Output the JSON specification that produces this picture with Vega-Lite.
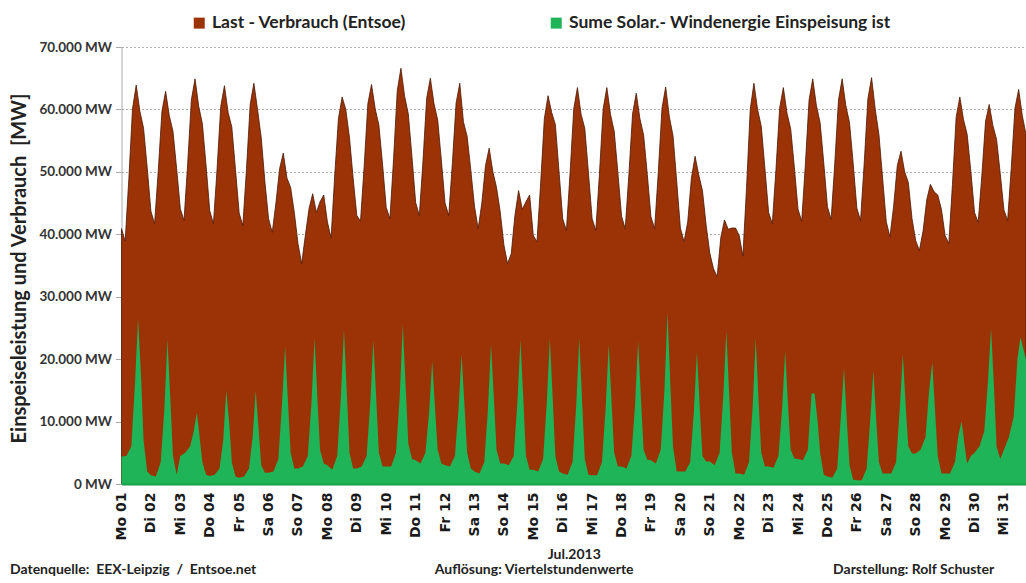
{
"$schema": "https://vega.github.io/schema/vega-lite/v6.json",
"width": 904.5,
"height": 437,
"autosize": {"type": "none"},
"padding": {"left": 121.5, "top": 47, "right": 0, "bottom": 99},
"background": "white",
"config": {"view": {"stroke": null}, "font": "Lato"},
"title": {
  "text": "Datenquelle:\u00a0\u00a0EEX-Leipzig\u00a0\u00a0/\u00a0\u00a0Entsoe.net\u2003\u2003\u2003\u2003\u2003\u2003\u2003\u2003\u2003\u2003\u2003\u2003\u2003\u2003\u2003\u2003\u2003Auflösung: Viertelstundenwerte\u2003\u2003\u2003\u2003\u2003\u2003\u2003\u2003\u2003\u2003\u2003\u2003\u2003\u2003\u2003\u2003\u2003\u2003\u2003Darstellung: Rolf Schuster",
  "orient": "bottom", "anchor": "start", "frame": "group", "dx": -111.5, "offset": 2,
  "baseline": "top", "font": "Lato", "fontSize": 14, "fontWeight": "bold", "color": "#222222"
},
"datasets": {
"last": [
{"t":"2013-07-01T00:00","v":40900},{"t":"2013-07-01T03:00","v":38900},{"t":"2013-07-01T06:00","v":48900},{"t":"2013-07-01T09:00","v":60100},{"t":"2013-07-01T12:00","v":63900},{"t":"2013-07-01T15:00","v":59700},{"t":"2013-07-01T18:00","v":57000},{"t":"2013-07-01T21:00","v":50600},
{"t":"2013-07-02T00:00","v":43700},{"t":"2013-07-02T03:00","v":41700},{"t":"2013-07-02T06:00","v":50200},{"t":"2013-07-02T09:00","v":59700},{"t":"2013-07-02T12:00","v":62900},{"t":"2013-07-02T15:00","v":59000},{"t":"2013-07-02T18:00","v":56500},{"t":"2013-07-02T21:00","v":50500},
{"t":"2013-07-03T00:00","v":44100},{"t":"2013-07-03T03:00","v":42200},{"t":"2013-07-03T06:00","v":51300},{"t":"2013-07-03T09:00","v":61500},{"t":"2013-07-03T12:00","v":64900},{"t":"2013-07-03T15:00","v":60500},{"t":"2013-07-03T18:00","v":57700},{"t":"2013-07-03T21:00","v":51000},
{"t":"2013-07-04T00:00","v":43800},{"t":"2013-07-04T03:00","v":41700},{"t":"2013-07-04T06:00","v":50500},{"t":"2013-07-04T09:00","v":60500},{"t":"2013-07-04T12:00","v":63800},{"t":"2013-07-04T15:00","v":59500},{"t":"2013-07-04T18:00","v":57200},{"t":"2013-07-04T21:00","v":50400},
{"t":"2013-07-05T00:00","v":43400},{"t":"2013-07-05T03:00","v":41400},{"t":"2013-07-05T06:00","v":50500},{"t":"2013-07-05T09:00","v":60800},{"t":"2013-07-05T12:00","v":64200},{"t":"2013-07-05T15:00","v":60000},{"t":"2013-07-05T18:00","v":55500},{"t":"2013-07-05T21:00","v":48400},
{"t":"2013-07-06T00:00","v":42500},{"t":"2013-07-06T03:00","v":40300},{"t":"2013-07-06T06:00","v":45000},{"t":"2013-07-06T09:00","v":50500},{"t":"2013-07-06T12:00","v":53000},{"t":"2013-07-06T15:00","v":49000},{"t":"2013-07-06T18:00","v":47500},{"t":"2013-07-06T21:00","v":43500},
{"t":"2013-07-07T00:00","v":38500},{"t":"2013-07-07T03:00","v":35300},{"t":"2013-07-07T06:00","v":39800},{"t":"2013-07-07T09:00","v":44100},{"t":"2013-07-07T12:00","v":46500},{"t":"2013-07-07T15:00","v":43500},{"t":"2013-07-07T18:00","v":45200},{"t":"2013-07-07T21:00","v":46300},
{"t":"2013-07-08T00:00","v":42000},{"t":"2013-07-08T03:00","v":39400},{"t":"2013-07-08T06:00","v":49500},{"t":"2013-07-08T09:00","v":58500},{"t":"2013-07-08T12:00","v":62000},{"t":"2013-07-08T15:00","v":60000},{"t":"2013-07-08T18:00","v":55500},{"t":"2013-07-08T21:00","v":49000},
{"t":"2013-07-09T00:00","v":43000},{"t":"2013-07-09T03:00","v":42100},{"t":"2013-07-09T06:00","v":50900},{"t":"2013-07-09T09:00","v":60900},{"t":"2013-07-09T12:00","v":64000},{"t":"2013-07-09T15:00","v":60100},{"t":"2013-07-09T18:00","v":57500},{"t":"2013-07-09T21:00","v":51200},
{"t":"2013-07-10T00:00","v":44300},{"t":"2013-07-10T03:00","v":42500},{"t":"2013-07-10T06:00","v":52100},{"t":"2013-07-10T09:00","v":63000},{"t":"2013-07-10T12:00","v":66600},{"t":"2013-07-10T15:00","v":62100},{"t":"2013-07-10T18:00","v":59300},{"t":"2013-07-10T21:00","v":52400},
{"t":"2013-07-11T00:00","v":45100},{"t":"2013-07-11T03:00","v":43000},{"t":"2013-07-11T06:00","v":51800},{"t":"2013-07-11T09:00","v":61800},{"t":"2013-07-11T12:00","v":65000},{"t":"2013-07-11T15:00","v":60900},{"t":"2013-07-11T18:00","v":58300},{"t":"2013-07-11T21:00","v":51800},
{"t":"2013-07-12T00:00","v":45000},{"t":"2013-07-12T03:00","v":43000},{"t":"2013-07-12T06:00","v":51500},{"t":"2013-07-12T09:00","v":61000},{"t":"2013-07-12T12:00","v":64200},{"t":"2013-07-12T15:00","v":58000},{"t":"2013-07-12T18:00","v":55700},{"t":"2013-07-12T21:00","v":50300},
{"t":"2013-07-13T00:00","v":44500},{"t":"2013-07-13T03:00","v":40900},{"t":"2013-07-13T06:00","v":45000},{"t":"2013-07-13T09:00","v":51000},{"t":"2013-07-13T12:00","v":53800},{"t":"2013-07-13T15:00","v":50000},{"t":"2013-07-13T18:00","v":47500},{"t":"2013-07-13T21:00","v":43600},
{"t":"2013-07-14T00:00","v":38300},{"t":"2013-07-14T03:00","v":35300},{"t":"2013-07-14T06:00","v":36900},{"t":"2013-07-14T09:00","v":43000},{"t":"2013-07-14T12:00","v":47000},{"t":"2013-07-14T15:00","v":44000},{"t":"2013-07-14T18:00","v":45200},{"t":"2013-07-14T21:00","v":46300},
{"t":"2013-07-15T00:00","v":39800},{"t":"2013-07-15T03:00","v":38800},{"t":"2013-07-15T06:00","v":48200},{"t":"2013-07-15T09:00","v":58500},{"t":"2013-07-15T12:00","v":62200},{"t":"2013-07-15T15:00","v":59500},{"t":"2013-07-15T18:00","v":57600},{"t":"2013-07-15T21:00","v":50000},
{"t":"2013-07-16T00:00","v":42500},{"t":"2013-07-16T03:00","v":40600},{"t":"2013-07-16T06:00","v":49800},{"t":"2013-07-16T09:00","v":60100},{"t":"2013-07-16T12:00","v":63500},{"t":"2013-07-16T15:00","v":59200},{"t":"2013-07-16T18:00","v":57000},{"t":"2013-07-16T21:00","v":49800},
{"t":"2013-07-17T00:00","v":42500},{"t":"2013-07-17T03:00","v":40600},{"t":"2013-07-17T06:00","v":49800},{"t":"2013-07-17T09:00","v":60100},{"t":"2013-07-17T12:00","v":63500},{"t":"2013-07-17T15:00","v":59200},{"t":"2013-07-17T18:00","v":56500},{"t":"2013-07-17T21:00","v":49900},
{"t":"2013-07-18T00:00","v":42900},{"t":"2013-07-18T03:00","v":40900},{"t":"2013-07-18T06:00","v":49600},{"t":"2013-07-18T09:00","v":59300},{"t":"2013-07-18T12:00","v":62600},{"t":"2013-07-18T15:00","v":58500},{"t":"2013-07-18T18:00","v":55900},{"t":"2013-07-18T21:00","v":49600},
{"t":"2013-07-19T00:00","v":42800},{"t":"2013-07-19T03:00","v":40900},{"t":"2013-07-19T06:00","v":50000},{"t":"2013-07-19T09:00","v":60200},{"t":"2013-07-19T12:00","v":63600},{"t":"2013-07-19T15:00","v":58800},{"t":"2013-07-19T18:00","v":55800},{"t":"2013-07-19T21:00","v":48500},
{"t":"2013-07-20T00:00","v":41000},{"t":"2013-07-20T03:00","v":38800},{"t":"2013-07-20T06:00","v":42000},{"t":"2013-07-20T09:00","v":49000},{"t":"2013-07-20T12:00","v":52500},{"t":"2013-07-20T15:00","v":49500},{"t":"2013-07-20T18:00","v":47000},{"t":"2013-07-20T21:00","v":41500},
{"t":"2013-07-21T00:00","v":37000},{"t":"2013-07-21T03:00","v":34500},{"t":"2013-07-21T06:00","v":33200},{"t":"2013-07-21T09:00","v":39500},{"t":"2013-07-21T12:00","v":42300},{"t":"2013-07-21T15:00","v":40800},{"t":"2013-07-21T18:00","v":41000},{"t":"2013-07-21T21:00","v":41000},
{"t":"2013-07-22T00:00","v":39800},{"t":"2013-07-22T03:00","v":36500},{"t":"2013-07-22T06:00","v":47500},{"t":"2013-07-22T09:00","v":60000},{"t":"2013-07-22T12:00","v":64200},{"t":"2013-07-22T15:00","v":60000},{"t":"2013-07-22T18:00","v":57300},{"t":"2013-07-22T21:00","v":50500},
{"t":"2013-07-23T00:00","v":43500},{"t":"2013-07-23T03:00","v":41700},{"t":"2013-07-23T06:00","v":50400},{"t":"2013-07-23T09:00","v":60200},{"t":"2013-07-23T12:00","v":63500},{"t":"2013-07-23T15:00","v":59400},{"t":"2013-07-23T18:00","v":56900},{"t":"2013-07-23T21:00","v":50700},
{"t":"2013-07-24T00:00","v":44000},{"t":"2013-07-24T03:00","v":42100},{"t":"2013-07-24T06:00","v":51200},{"t":"2013-07-24T09:00","v":61500},{"t":"2013-07-24T12:00","v":64900},{"t":"2013-07-24T15:00","v":60600},{"t":"2013-07-24T18:00","v":57900},{"t":"2013-07-24T21:00","v":51400},
{"t":"2013-07-25T00:00","v":44400},{"t":"2013-07-25T03:00","v":42400},{"t":"2013-07-25T06:00","v":51400},{"t":"2013-07-25T09:00","v":61500},{"t":"2013-07-25T12:00","v":64900},{"t":"2013-07-25T15:00","v":60600},{"t":"2013-07-25T18:00","v":57900},{"t":"2013-07-25T21:00","v":51300},
{"t":"2013-07-26T00:00","v":44200},{"t":"2013-07-26T03:00","v":42200},{"t":"2013-07-26T06:00","v":51400},{"t":"2013-07-26T09:00","v":61700},{"t":"2013-07-26T12:00","v":65100},{"t":"2013-07-26T15:00","v":60000},{"t":"2013-07-26T18:00","v":56000},{"t":"2013-07-26T21:00","v":49000},
{"t":"2013-07-27T00:00","v":42000},{"t":"2013-07-27T03:00","v":39600},{"t":"2013-07-27T06:00","v":44500},{"t":"2013-07-27T09:00","v":51000},{"t":"2013-07-27T12:00","v":53300},{"t":"2013-07-27T15:00","v":50000},{"t":"2013-07-27T18:00","v":48300},{"t":"2013-07-27T21:00","v":42500},
{"t":"2013-07-28T00:00","v":39000},{"t":"2013-07-28T03:00","v":37400},{"t":"2013-07-28T06:00","v":40500},{"t":"2013-07-28T09:00","v":45500},{"t":"2013-07-28T12:00","v":48000},{"t":"2013-07-28T15:00","v":46800},{"t":"2013-07-28T18:00","v":46300},{"t":"2013-07-28T21:00","v":44000},
{"t":"2013-07-29T00:00","v":39800},{"t":"2013-07-29T03:00","v":38500},{"t":"2013-07-29T06:00","v":48000},{"t":"2013-07-29T09:00","v":58700},{"t":"2013-07-29T12:00","v":62000},{"t":"2013-07-29T15:00","v":58400},{"t":"2013-07-29T18:00","v":56000},{"t":"2013-07-29T21:00","v":50100},
{"t":"2013-07-30T00:00","v":43500},{"t":"2013-07-30T03:00","v":41900},{"t":"2013-07-30T06:00","v":49500},{"t":"2013-07-30T09:00","v":58100},{"t":"2013-07-30T12:00","v":60800},{"t":"2013-07-30T15:00","v":57400},{"t":"2013-07-30T18:00","v":55200},{"t":"2013-07-30T21:00","v":49700},
{"t":"2013-07-31T00:00","v":43900},{"t":"2013-07-31T03:00","v":42200},{"t":"2013-07-31T06:00","v":50700},{"t":"2013-07-31T09:00","v":60200},{"t":"2013-07-31T12:00","v":63200},{"t":"2013-07-31T15:00","v":59000},{"t":"2013-07-31T18:00","v":56000}
],
"ee": [
{"t":"2013-07-01T00:00","v":4400},{"t":"2013-07-01T04:00","v":4500},{"t":"2013-07-01T08:00","v":6000},{"t":"2013-07-01T11:00","v":16000},{"t":"2013-07-01T13:30","v":26500},{"t":"2013-07-01T16:00","v":17000},{"t":"2013-07-01T18:00","v":7000},{"t":"2013-07-01T21:00","v":2000},
{"t":"2013-07-02T00:00","v":1400},{"t":"2013-07-02T04:00","v":1200},{"t":"2013-07-02T08:00","v":3500},{"t":"2013-07-02T11:00","v":12000},{"t":"2013-07-02T13:30","v":23200},{"t":"2013-07-02T16:00","v":13000},{"t":"2013-07-02T18:00","v":4500},{"t":"2013-07-02T21:00","v":1500},
{"t":"2013-07-03T00:00","v":4500},{"t":"2013-07-03T04:00","v":5000},{"t":"2013-07-03T08:00","v":6000},{"t":"2013-07-03T11:00","v":8500},{"t":"2013-07-03T13:30","v":11400},{"t":"2013-07-03T16:00","v":7000},{"t":"2013-07-03T18:00","v":3500},{"t":"2013-07-03T21:00","v":1500},
{"t":"2013-07-04T00:00","v":1300},{"t":"2013-07-04T04:00","v":1500},{"t":"2013-07-04T08:00","v":2500},{"t":"2013-07-04T11:00","v":7000},{"t":"2013-07-04T13:30","v":15000},{"t":"2013-07-04T16:00","v":9500},{"t":"2013-07-04T18:00","v":3500},{"t":"2013-07-04T21:00","v":1200},
{"t":"2013-07-05T00:00","v":1000},{"t":"2013-07-05T04:00","v":1200},{"t":"2013-07-05T08:00","v":2500},{"t":"2013-07-05T11:00","v":7500},{"t":"2013-07-05T13:30","v":14900},{"t":"2013-07-05T16:00","v":8500},{"t":"2013-07-05T18:00","v":3000},{"t":"2013-07-05T21:00","v":1800},
{"t":"2013-07-06T00:00","v":1800},{"t":"2013-07-06T04:00","v":2000},{"t":"2013-07-06T08:00","v":4000},{"t":"2013-07-06T11:00","v":13000},{"t":"2013-07-06T13:30","v":22000},{"t":"2013-07-06T16:00","v":12500},{"t":"2013-07-06T18:00","v":5000},{"t":"2013-07-06T21:00","v":2500},
{"t":"2013-07-07T00:00","v":2500},{"t":"2013-07-07T04:00","v":2800},{"t":"2013-07-07T08:00","v":4500},{"t":"2013-07-07T11:00","v":13000},{"t":"2013-07-07T13:30","v":23300},{"t":"2013-07-07T16:00","v":13000},{"t":"2013-07-07T18:00","v":5500},{"t":"2013-07-07T21:00","v":3300},
{"t":"2013-07-08T00:00","v":3000},{"t":"2013-07-08T04:00","v":2300},{"t":"2013-07-08T08:00","v":4500},{"t":"2013-07-08T11:00","v":14000},{"t":"2013-07-08T13:30","v":24700},{"t":"2013-07-08T16:00","v":14000},{"t":"2013-07-08T18:00","v":5000},{"t":"2013-07-08T21:00","v":2500},
{"t":"2013-07-09T00:00","v":2500},{"t":"2013-07-09T04:00","v":2800},{"t":"2013-07-09T08:00","v":4500},{"t":"2013-07-09T11:00","v":13000},{"t":"2013-07-09T13:30","v":23000},{"t":"2013-07-09T16:00","v":13000},{"t":"2013-07-09T18:00","v":5000},{"t":"2013-07-09T21:00","v":2800},
{"t":"2013-07-10T00:00","v":2800},{"t":"2013-07-10T04:00","v":2800},{"t":"2013-07-10T08:00","v":5000},{"t":"2013-07-10T11:00","v":14000},{"t":"2013-07-10T13:30","v":25500},{"t":"2013-07-10T16:00","v":15000},{"t":"2013-07-10T18:00","v":6500},{"t":"2013-07-10T21:00","v":4000},
{"t":"2013-07-11T00:00","v":3800},{"t":"2013-07-11T04:00","v":3300},{"t":"2013-07-11T08:00","v":5000},{"t":"2013-07-11T11:00","v":11500},{"t":"2013-07-11T13:30","v":19700},{"t":"2013-07-11T16:00","v":11500},{"t":"2013-07-11T18:00","v":5500},{"t":"2013-07-11T21:00","v":3300},
{"t":"2013-07-12T00:00","v":3000},{"t":"2013-07-12T04:00","v":2800},{"t":"2013-07-12T08:00","v":4500},{"t":"2013-07-12T11:00","v":12000},{"t":"2013-07-12T13:30","v":20800},{"t":"2013-07-12T16:00","v":12000},{"t":"2013-07-12T18:00","v":5000},{"t":"2013-07-12T21:00","v":2500},
{"t":"2013-07-13T00:00","v":2000},{"t":"2013-07-13T04:00","v":1700},{"t":"2013-07-13T08:00","v":3500},{"t":"2013-07-13T11:00","v":12000},{"t":"2013-07-13T13:30","v":22400},{"t":"2013-07-13T16:00","v":13000},{"t":"2013-07-13T18:00","v":5500},{"t":"2013-07-13T21:00","v":3300},
{"t":"2013-07-14T00:00","v":3300},{"t":"2013-07-14T04:00","v":3000},{"t":"2013-07-14T08:00","v":4500},{"t":"2013-07-14T11:00","v":13000},{"t":"2013-07-14T13:30","v":23100},{"t":"2013-07-14T16:00","v":13000},{"t":"2013-07-14T18:00","v":4500},{"t":"2013-07-14T21:00","v":2300},
{"t":"2013-07-15T00:00","v":2300},{"t":"2013-07-15T04:00","v":2000},{"t":"2013-07-15T08:00","v":4000},{"t":"2013-07-15T11:00","v":13000},{"t":"2013-07-15T13:30","v":23300},{"t":"2013-07-15T16:00","v":13000},{"t":"2013-07-15T18:00","v":4500},{"t":"2013-07-15T21:00","v":2000},
{"t":"2013-07-16T00:00","v":1700},{"t":"2013-07-16T04:00","v":1500},{"t":"2013-07-16T08:00","v":3500},{"t":"2013-07-16T11:00","v":12500},{"t":"2013-07-16T13:30","v":23300},{"t":"2013-07-16T16:00","v":12500},{"t":"2013-07-16T18:00","v":4000},{"t":"2013-07-16T21:00","v":1500},
{"t":"2013-07-17T00:00","v":1400},{"t":"2013-07-17T04:00","v":1400},{"t":"2013-07-17T08:00","v":3500},{"t":"2013-07-17T11:00","v":12000},{"t":"2013-07-17T13:30","v":22400},{"t":"2013-07-17T16:00","v":12500},{"t":"2013-07-17T18:00","v":5000},{"t":"2013-07-17T21:00","v":2800},
{"t":"2013-07-18T00:00","v":2800},{"t":"2013-07-18T04:00","v":2500},{"t":"2013-07-18T08:00","v":4500},{"t":"2013-07-18T11:00","v":12500},{"t":"2013-07-18T13:30","v":22900},{"t":"2013-07-18T16:00","v":13000},{"t":"2013-07-18T18:00","v":5500},{"t":"2013-07-18T21:00","v":3900},
{"t":"2013-07-19T00:00","v":3800},{"t":"2013-07-19T04:00","v":3300},{"t":"2013-07-19T08:00","v":5500},{"t":"2013-07-19T11:00","v":15000},{"t":"2013-07-19T13:30","v":27500},{"t":"2013-07-19T16:00","v":15000},{"t":"2013-07-19T18:00","v":6000},{"t":"2013-07-19T21:00","v":2000},
{"t":"2013-07-20T00:00","v":2000},{"t":"2013-07-20T04:00","v":2000},{"t":"2013-07-20T08:00","v":3500},{"t":"2013-07-20T11:00","v":11500},{"t":"2013-07-20T13:30","v":21200},{"t":"2013-07-20T16:00","v":11500},{"t":"2013-07-20T18:00","v":4500},{"t":"2013-07-20T21:00","v":3600},
{"t":"2013-07-21T00:00","v":3600},{"t":"2013-07-21T04:00","v":3000},{"t":"2013-07-21T08:00","v":5000},{"t":"2013-07-21T11:00","v":14000},{"t":"2013-07-21T13:30","v":24500},{"t":"2013-07-21T16:00","v":13500},{"t":"2013-07-21T18:00","v":5000},{"t":"2013-07-21T21:00","v":1700},
{"t":"2013-07-22T00:00","v":1700},{"t":"2013-07-22T04:00","v":1500},{"t":"2013-07-22T08:00","v":3500},{"t":"2013-07-22T11:00","v":12500},{"t":"2013-07-22T13:30","v":23300},{"t":"2013-07-22T16:00","v":12500},{"t":"2013-07-22T18:00","v":5000},{"t":"2013-07-22T21:00","v":2800},
{"t":"2013-07-23T00:00","v":2800},{"t":"2013-07-23T04:00","v":2600},{"t":"2013-07-23T08:00","v":4500},{"t":"2013-07-23T11:00","v":12000},{"t":"2013-07-23T13:30","v":21300},{"t":"2013-07-23T16:00","v":12000},{"t":"2013-07-23T18:00","v":5500},{"t":"2013-07-23T21:00","v":4100},
{"t":"2013-07-24T00:00","v":4000},{"t":"2013-07-24T04:00","v":3800},{"t":"2013-07-24T08:00","v":5500},{"t":"2013-07-24T11:00","v":14500},{"t":"2013-07-24T13:30","v":14500},{"t":"2013-07-24T16:00","v":10000},{"t":"2013-07-24T18:00","v":5000},{"t":"2013-07-24T21:00","v":1500},
{"t":"2013-07-25T00:00","v":1200},{"t":"2013-07-25T04:00","v":1000},{"t":"2013-07-25T08:00","v":2500},{"t":"2013-07-25T11:00","v":11000},{"t":"2013-07-25T13:30","v":18600},{"t":"2013-07-25T16:00","v":9500},{"t":"2013-07-25T18:00","v":3000},{"t":"2013-07-25T21:00","v":700},
{"t":"2013-07-26T00:00","v":600},{"t":"2013-07-26T04:00","v":600},{"t":"2013-07-26T08:00","v":2500},{"t":"2013-07-26T11:00","v":10500},{"t":"2013-07-26T13:30","v":18100},{"t":"2013-07-26T16:00","v":9500},{"t":"2013-07-26T18:00","v":3500},{"t":"2013-07-26T21:00","v":1700},
{"t":"2013-07-27T00:00","v":1700},{"t":"2013-07-27T04:00","v":1700},{"t":"2013-07-27T08:00","v":3500},{"t":"2013-07-27T11:00","v":12000},{"t":"2013-07-27T13:30","v":20800},{"t":"2013-07-27T16:00","v":12000},{"t":"2013-07-27T18:00","v":6000},{"t":"2013-07-27T21:00","v":4900},
{"t":"2013-07-28T00:00","v":4900},{"t":"2013-07-28T04:00","v":5500},{"t":"2013-07-28T08:00","v":7500},{"t":"2013-07-28T11:00","v":15000},{"t":"2013-07-28T13:30","v":19500},{"t":"2013-07-28T16:00","v":11000},{"t":"2013-07-28T18:00","v":4500},{"t":"2013-07-28T21:00","v":1700},
{"t":"2013-07-29T00:00","v":1700},{"t":"2013-07-29T04:00","v":1700},{"t":"2013-07-29T08:00","v":3500},{"t":"2013-07-29T11:00","v":8000},{"t":"2013-07-29T13:30","v":10000},{"t":"2013-07-29T16:00","v":6000},{"t":"2013-07-29T18:00","v":3300},{"t":"2013-07-29T21:00","v":4500},
{"t":"2013-07-30T00:00","v":5000},{"t":"2013-07-30T04:00","v":6000},{"t":"2013-07-30T08:00","v":8500},{"t":"2013-07-30T11:00","v":16500},{"t":"2013-07-30T13:30","v":24900},{"t":"2013-07-30T16:00","v":15000},{"t":"2013-07-30T18:00","v":6000},{"t":"2013-07-30T21:00","v":4000},
{"t":"2013-07-31T00:00","v":5500},{"t":"2013-07-31T04:00","v":7500},{"t":"2013-07-31T08:00","v":10800},{"t":"2013-07-31T11:00","v":20000},{"t":"2013-07-31T13:30","v":23500},{"t":"2013-07-31T16:00","v":21500},{"t":"2013-07-31T18:00","v":20000}
]
},
"encoding": {
  "x": {
    "field": "t", "type": "temporal",
    "scale": {"domain": [{"year": 2013, "month": 7, "date": 1, "hours": 0}, {"year": 2013, "month": 7, "date": 31, "hours": 18}], "nice": false},
    "axis": {
      "title": "Jul.2013", "titleFont": "Lato", "titleFontSize": 14, "titleFontWeight": "bold", "titleColor": "#222222",
      "titleY": 63, "titleBaseline": "top",
      "tickCount": {"interval": "day", "step": 1},
      "labelExpr": "['So','Mo','Di','Mi','Do','Fr','Sa'][day(datum.value)] + ' ' + timeFormat(datum.value, '%d')",
      "labelAngle": 270, "labelFont": "DejaVu Sans", "labelFontSize": 14, "labelFontWeight": "bold", "labelColor": "#1a1a1a",
      "labelPadding": 8, "ticks": false, "grid": false, "domainColor": "#17a24a", "domainWidth": 2,
      "labelOverlap": false, "labelBound": false, "labelFlush": false, "zindex": 1
    }
  },
  "y": {
    "field": "v", "type": "quantitative",
    "scale": {"domain": [0, 70000], "nice": false},
    "axis": {
      "title": "Einspeiseleistung und Verbrauch\u00a0\u00a0[MW]",
      "titleFont": "Lato", "titleFontSize": 20, "titleFontWeight": "bold", "titleColor": "#222222",
      "titleX": -92, "titleY": 221, "titleBaseline": "bottom",
      "values": [0, 10000, 20000, 30000, 40000, 50000, 60000, 70000],
      "labelExpr": "replace(format(datum.value, ','), ',', '.') + ' MW'",
      "labelFont": "Lato", "labelFontSize": 13.5, "labelFontWeight": "bold", "labelColor": "#333333",
      "labelPadding": 4, "tickSize": 6, "tickColor": "#aaaaaa", "domainColor": "#aaaaaa",
      "grid": true, "gridColor": "#b0b0b0", "gridDash": [2, 2]
    }
  }
},
"layer": [
  {
    "data": {"name": "last"},
    "mark": {"type": "area", "stroke": "#4a1805", "strokeWidth": 0.8, "interpolate": "linear"},
    "encoding": {
      "color": {
        "datum": "Last - Verbrauch (Entsoe)",
        "scale": {"domain": ["Last - Verbrauch (Entsoe)", "Sume Solar.- Windenergie Einspeisung ist"], "range": ["#9b3306", "#1fb457"]},
        "legend": {
          "orient": "none", "legendX": 69, "legendY": -33, "direction": "horizontal", "title": null,
          "symbolType": "square", "symbolSize": 121, "symbolStrokeWidth": 0, "symbolOpacity": 1,
          "labelFont": "Lato", "labelFontSize": 17.5, "labelFontWeight": "bold", "labelColor": "#222222",
          "labelOffset": 4, "columnPadding": 141, "padding": 0, "labelLimit": 500
        }
      }
    }
  },
  {
    "data": {"name": "ee"},
    "mark": {"type": "area", "interpolate": "linear"},
    "encoding": {
      "color": {"datum": "Sume Solar.- Windenergie Einspeisung ist"}
    }
  }
]
}
